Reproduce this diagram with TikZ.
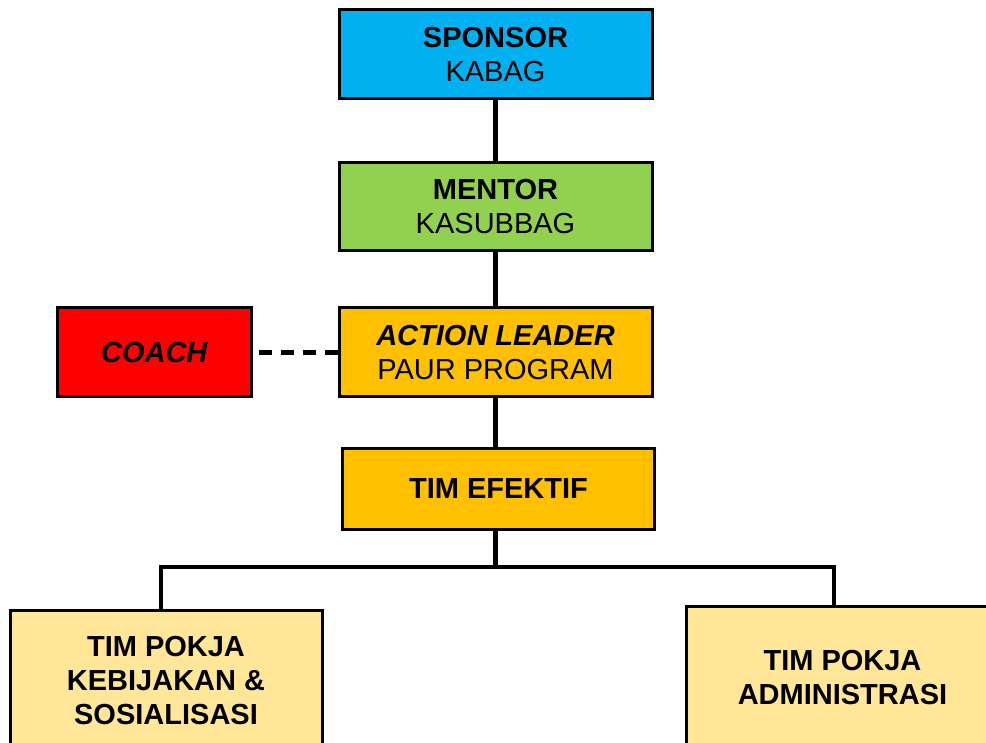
\documentclass[tikz,border=0pt]{standalone}
\usepackage{fontspec}
\setmainfont{Liberation Sans}
\definecolor{cSponsor}{HTML}{00B0F0}
\definecolor{cMentor}{HTML}{92D050}
\definecolor{cLeader}{HTML}{FFC000}
\definecolor{cCoach}{HTML}{FF0000}
\definecolor{cPokja}{HTML}{FFE699}
\begin{document}
\begin{tikzpicture}[x=1pt,y=-1pt,
  box/.style={draw=black, line width=3pt, rectangle, align=center, inner sep=0pt,
    font=\fontsize{29}{34}\selectfont},
  conn/.style={line width=4.5pt, black},
  dashconn/.style={line width=4.5pt, black, dash pattern=on 13pt off 9pt}]
\useasboundingbox (0,0) rectangle (986,743);
\clip (0,0) rectangle (986,743);
\node[box, fill=cSponsor, minimum width=313pt, minimum height=89pt] (sponsor) at (495.5,54.5) {\textbf{SPONSOR}\\KABAG};
\node[box, fill=cMentor, minimum width=313pt, minimum height=88.5pt] (mentor) at (495.5,206.5) {\textbf{MENTOR}\\KASUBBAG};
\node[box, fill=cLeader, minimum width=313pt, minimum height=89pt] (leader) at (495.5,352.5) {\textbf{\textit{ACTION LEADER}}\\PAUR PROGRAM};
\node[box, fill=cCoach, minimum width=194pt, minimum height=89pt] (coach) at (154.5,352.5) {\textbf{\textit{COACH}}};
\node[box, fill=cLeader, minimum width=312pt, minimum height=81pt] (tim) at (498.5,489) {\textbf{TIM EFEKTIF}};
\node[box, fill=cPokja, minimum width=312pt, minimum height=140pt] (pokjaA) at (166,680.7) {\textbf{TIM POKJA}\\\textbf{KEBIJAKAN \&}\\\textbf{SOSIALISASI}};
\node[box, fill=cPokja, minimum width=313pt, minimum height=142pt] (pokjaB) at (842.5,677.7) {\textbf{TIM POKJA}\\\textbf{ADMINISTRASI}};
\coordinate (spine) at (495.7,0);
\coordinate (hl) at (161,567);
\coordinate (hr) at (834,567);
\draw[conn] (sponsor.south -| spine) -- (mentor.north -| spine);
\draw[conn] (mentor.south -| spine) -- (leader.north -| spine);
\draw[conn] (leader.south -| spine) -- (tim.north -| spine);
\draw[conn] (tim.south -| spine) -- (hl -| spine);
\draw[conn] (pokjaA.north -| hl) -- (hl) -- (hr) -- (pokjaB.north -| hr);
\draw[dashconn] (leader.west) -- (coach.east);
\end{tikzpicture}
\end{document}
